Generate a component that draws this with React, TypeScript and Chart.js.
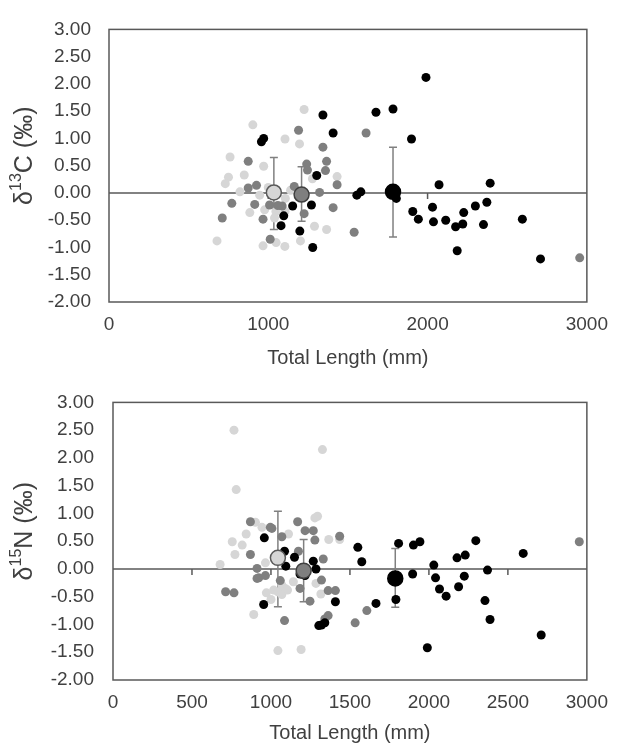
import React, { useEffect, useRef } from "react";
import { Chart, registerables } from "chart.js";

Chart.register(...registerables);

type Pt = [number, number];

// ---------- Top panel: d13C ----------
const c13Light: Pt[] = [
  [903, 1.25], [1105, 0.99], [1196, 0.9], [1225, 1.53], [760, 0.66], [750, 0.29], [730, 0.17],
  [849, 0.33], [971, 0.49], [822, 0.02], [946, -0.04], [884, -0.36], [977, -0.31], [678, -0.88],
  [967, -0.97], [1104, -0.98], [1048, -0.34], [1039, -0.46], [1202, -0.88], [1277, 0.26],
  [1290, -0.61], [1107, -0.1], [1049, -0.91], [1432, 0.3], [1366, -0.67], [1105, -0.34],
  [1140, 0.05], [1000, 0.1],
];
const c13Mid: Pt[] = [
  [1190, 1.15], [874, 0.58], [711, -0.46], [771, -0.19], [915, -0.21], [874, 0.09], [926, 0.14],
  [1012, -0.85], [1163, 0.12], [1241, 0.53], [1246, 0.42], [1008, -0.22], [1087, -0.24],
  [967, -0.48], [1225, -0.38], [1343, 0.84], [1366, 0.58], [1359, 0.41], [1432, 0.15],
  [1322, 0.01], [1407, -0.27], [1614, 1.1], [1539, -0.72], [2955, -1.19], [1060, -0.23],
];
const c13Black: Pt[] = [
  [957, 0.94], [971, 1.0], [1153, -0.24], [1271, -0.22], [1097, -0.42], [1080, -0.6],
  [1198, -0.7], [1279, -1.0], [1304, 0.32], [1343, 1.43], [1407, 1.1], [1556, -0.04],
  [1581, 0.02], [1676, 1.48], [1783, 1.54], [1990, 2.12], [1899, 0.99], [2072, 0.15],
  [2393, 0.18], [1907, -0.34], [1942, -0.48], [2031, -0.26], [2037, -0.53], [2114, -0.5],
  [2176, -0.62], [2221, -0.57], [2227, -0.36], [2300, -0.24], [2372, -0.17], [2351, -0.58],
  [2186, -1.06], [2595, -0.48], [2709, -1.21], [1804, -0.1],
];
const c13MeanX = [1035, 1209, 1783];
const c13MeanY = [0.01, -0.03, 0.02];
const c13Hi = [0.65, 0.48, 0.84];
const c13Lo = [-0.67, -0.52, -0.81];

// ---------- Bottom panel: d15N ----------
const n15Light: Pt[] = [
  [766, 2.5], [780, 1.43], [678, 0.08], [755, 0.49], [772, 0.26], [818, 0.43], [843, 0.63],
  [902, 0.84], [943, 0.75], [891, -0.82], [1044, -1.47], [1191, -1.45], [971, -0.43],
  [1044, -0.41], [1090, -0.35], [1069, -0.46], [1111, 0.63], [1278, 0.92], [965, 0.11],
  [1017, -0.38], [1069, -0.29], [1105, -0.38], [1326, 2.15], [1295, 0.95], [1366, 0.53],
  [1435, 0.53], [1285, -0.26], [1316, -0.45], [1142, -0.23], [1000, -0.55],
];
const n15Mid: Pt[] = [
  [870, 0.85], [1006, 0.73], [870, 0.26], [912, 0.01], [923, -0.16], [965, -0.12], [713, -0.41],
  [766, -0.43], [1086, -0.93], [1069, 0.58], [1169, 0.85], [1174, 0.32], [1216, 0.69],
  [1268, 0.69], [1184, -0.35], [1247, -0.58], [996, 0.75], [1059, -0.21], [1278, 0.52],
  [1331, 0.18], [1320, -0.2], [1362, -0.39], [1408, -0.39], [1362, -0.84], [1341, -0.9],
  [1607, -0.75], [1533, -0.97], [1435, 0.59], [2952, 0.49], [1200, -0.1], [912, -0.17],
];
const n15Black: Pt[] = [
  [958, 0.56], [1086, 0.32], [1149, 0.21], [1094, 0.05], [1268, 0.14], [954, -0.64],
  [1303, -1.02], [1216, -0.12], [1285, 0.0], [1550, 0.39], [1575, 0.13], [1408, -0.59],
  [1320, -1.01], [1341, -0.97], [1665, -0.62], [1184, -0.09], [1808, 0.46], [1902, 0.43],
  [1943, 0.49], [1897, -0.09], [1791, -0.55], [1990, -1.42], [2031, 0.07], [2042, -0.16],
  [2067, -0.36], [2109, -0.49], [2178, 0.2], [2230, 0.25], [2188, -0.32], [2224, -0.13],
  [2297, 0.51], [2371, -0.02], [2355, -0.57], [2387, -0.91], [2597, 0.28], [2711, -1.19],
];
const n15MeanX = [1044, 1207, 1787];
const n15MeanY = [0.2, -0.03, -0.17];
const n15Hi = [1.04, 0.53, 0.37];
const n15Lo = [-0.68, -0.59, -0.69];

const X_MIN = 0;
const X_MAX = 3000;
const Y_MIN = -2;
const Y_MAX = 3;
const Y_STEP = 0.5;
const X_TITLE = "Total Length (mm)";

const LIGHT = "#d6d6d6";
const MID = "#7f7f7f";
const BLACK = "#000000";
const TEXT = "#404040";
const AXIS = "#595959";
const FONT = "'Liberation Sans', Arial, sans-serif";

type PanelProps = {
  width: number;
  height: number;
  light: Pt[];
  mid: Pt[];
  black: Pt[];
  meanX: number[];
  meanY: number[];
  hi: number[];
  lo: number[];
  xStep: number;
  element: string;
  massNum: string;
  padTop: number;
  padRight: number;
  yWidth: number;
  xHeight: number;
  yTickPad: number;
  xTitlePad: number;
};

function Panel(p: PanelProps) {
  const ref = useRef<HTMLCanvasElement | null>(null);
  useEffect(() => {
    if (!ref.current) return;
    const toXY = (a: Pt[]) => a.map(([x, y]) => ({ x, y }));
    const meanFill = [LIGHT, MID, BLACK];
    const meanBorder = ["#595959", "#404040", "#000000"];
    const means = p.meanX.map((x, i) => ({ x, y: p.meanY[i] }));

    const decor = {
      id: "decor",
      beforeDatasetsDraw(chart: any) {
        const { ctx, chartArea: a, scales } = chart;
        const xs = scales.x;
        const ys = scales.y;
        ctx.save();
        ctx.strokeStyle = AXIS;
        ctx.lineWidth = 1.5;
        ctx.strokeRect(a.left, a.top, a.right - a.left, a.bottom - a.top);
        const y0 = ys.getPixelForValue(0);
        ctx.beginPath();
        ctx.moveTo(a.left, y0);
        ctx.lineTo(a.right, y0);
        xs.ticks.forEach((t: any) => {
          if (t.value > xs.min && t.value < xs.max) {
            const px = xs.getPixelForValue(t.value);
            ctx.moveTo(px, y0);
            ctx.lineTo(px, y0 + 6);
          }
        });
        ctx.stroke();
        // error bars
        ctx.strokeStyle = "#808080";
        ctx.lineWidth = 1.5;
        p.meanX.forEach((mx, i) => {
          const px = xs.getPixelForValue(mx);
          const top = ys.getPixelForValue(p.hi[i]);
          const bot = ys.getPixelForValue(p.lo[i]);
          ctx.beginPath();
          ctx.moveTo(px, top);
          ctx.lineTo(px, bot);
          ctx.moveTo(px - 4, top);
          ctx.lineTo(px + 4, top);
          ctx.moveTo(px - 4, bot);
          ctx.lineTo(px + 4, bot);
          ctx.stroke();
        });
        ctx.restore();
      },
      afterDraw(chart: any) {
        const { ctx, chartArea: a } = chart;
        ctx.save();
        const cx = 25;
        const cy = (a.top + a.bottom) / 2 - 10;
        ctx.translate(cx, cy);
        ctx.rotate(-Math.PI / 2);
        ctx.fillStyle = TEXT;
        ctx.textBaseline = "middle";
        ctx.textAlign = "left";
        const big = "25px " + FONT;
        const small = "16px " + FONT;
        const parts = [
          { t: "δ", f: big, dy: 0 },
          { t: p.massNum, f: small, dy: -8 },
          { t: p.element + " (‰)", f: big, dy: 0 },
        ];
        let total = 0;
        parts.forEach((pt) => {
          ctx.font = pt.f;
          total += ctx.measureText(pt.t).width;
        });
        let x = -total / 2;
        parts.forEach((pt) => {
          ctx.font = pt.f;
          ctx.fillText(pt.t, x, pt.dy);
          x += ctx.measureText(pt.t).width;
        });
        ctx.restore();
      },
    };

    const chart = new Chart(ref.current, {
      type: "scatter",
      data: {
        datasets: [
          {
            data: means,
            pointRadius: 7.5,
            pointBackgroundColor: meanFill,
            pointBorderColor: meanBorder,
            pointBorderWidth: 1.5,
          },
          { data: toXY(p.black), pointRadius: 4.5, pointBackgroundColor: BLACK, pointBorderWidth: 0 },
          { data: toXY(p.mid), pointRadius: 4.5, pointBackgroundColor: MID, pointBorderWidth: 0 },
          { data: toXY(p.light), pointRadius: 4.5, pointBackgroundColor: LIGHT, pointBorderWidth: 0 },
        ],
      },
      options: {
        animation: false,
        responsive: false,
        devicePixelRatio: 1,
        layout: { padding: { top: p.padTop, right: p.padRight, left: 0, bottom: 0 } },
        plugins: { legend: { display: false }, tooltip: { enabled: false } },
        scales: {
          x: {
            type: "linear",
            min: X_MIN,
            max: X_MAX,
            grid: { display: false, drawTicks: false },
            border: { display: false },
            ticks: {
              stepSize: p.xStep,
              color: TEXT,
              padding: 11,
              maxRotation: 0,
              font: { family: FONT, size: 19 },
              callback: (v: any) => String(v),
            },
            title: {
              display: true,
              text: X_TITLE,
              color: TEXT,
              padding: { top: 0, bottom: p.xTitlePad },
              font: { family: FONT, size: 20 },
            },
            afterFit: (s: any) => {
              s.height = p.xHeight;
            },
          },
          y: {
            type: "linear",
            min: Y_MIN,
            max: Y_MAX,
            grid: { display: false, drawTicks: false },
            border: { display: false },
            ticks: {
              stepSize: Y_STEP,
              color: TEXT,
              padding: p.yTickPad,
              font: { family: FONT, size: 19 },
              callback: (v: any) => Number(v).toFixed(2),
            },
            afterFit: (s: any) => {
              s.width = p.yWidth;
            },
          },
        },
      },
      plugins: [decor],
    } as any);
    return () => chart.destroy();
  }, []);
  return <canvas ref={ref} width={p.width} height={p.height} style={{ display: "block" }} />;
}

export default function App() {
  return (
    <div
      style={{
        position: "absolute",
        left: 0,
        top: 0,
        width: 619,
        height: 753,
        background: "#ffffff",
      }}
    >
      <Panel
        width={619}
        height={372}
        light={c13Light}
        mid={c13Mid}
        black={c13Black}
        meanX={c13MeanX}
        meanY={c13MeanY}
        hi={c13Hi}
        lo={c13Lo}
        xStep={1000}
        element="C"
        massNum="13"
        padTop={23}
        padRight={26}
        yWidth={109}
        xHeight={70}
        yTickPad={18}
        xTitlePad={2}
      />
      <Panel
        width={619}
        height={381}
        light={n15Light}
        mid={n15Mid}
        black={n15Black}
        meanX={n15MeanX}
        meanY={n15MeanY}
        hi={n15Hi}
        lo={n15Lo}
        xStep={500}
        element="N"
        massNum="15"
        padTop={20}
        padRight={28}
        yWidth={113}
        xHeight={73}
        yTickPad={19}
        xTitlePad={8}
      />
    </div>
  );
}
